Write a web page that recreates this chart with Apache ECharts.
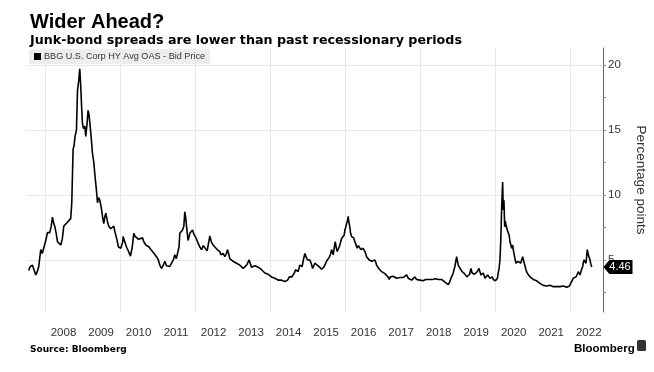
<!DOCTYPE html>
<html>
<head>
<meta charset="utf-8">
<script src="https://cdn.jsdelivr.net/npm/echarts@6/dist/echarts.min.js"></script>
<style>html,body{margin:0;padding:0;background:#fff;overflow:hidden;}#chart{width:654px;height:372px;}</style>
</head>
<body>
<div id="chart"></div>
<script>
// [decimal year, spread in percentage points]
const period2007_2009 = [[2007.573,4.2],[2007.613,4.5],[2007.672,4.6],[2007.707,4.3],[2007.76,3.85],[2007.8,4.1],[2007.84,4.5],[2007.893,5.8],[2007.933,5.5],[2007.973,5.6],[2008.027,6.5],[2008.072,7.1],[2008.133,7.1],[2008.173,7.6],[2008.205,8.3],[2008.24,7.8],[2008.267,7.6],[2008.307,7.0],[2008.339,6.4],[2008.387,6.3],[2008.427,6.15],[2008.467,6.6],[2008.507,7.6],[2008.56,7.7],[2008.605,7.9],[2008.653,8.0],[2008.693,8.2],[2008.72,9.4],[2008.755,13.5],[2008.781,13.8],[2008.808,14.5],[2008.845,15.0],[2008.872,18.0],[2008.907,18.8],[2008.933,19.7],[2008.96,18.3],[2008.987,16.5],[2009.005,15.5],[2009.032,15.1],[2009.067,15.3],[2009.093,14.5],[2009.128,15.5],[2009.155,16.5],[2009.179,16.2],[2009.2,15.6],[2009.235,14.5],[2009.272,13.2],[2009.307,12.5],[2009.341,11.4],[2009.373,10.5],[2009.405,9.4],[2009.435,9.8],[2009.467,9.6],[2009.507,9.0],[2009.547,8.2],[2009.573,7.8],[2009.6,8.3],[2009.627,8.6],[2009.667,8.0],[2009.707,7.6],[2009.76,7.4],[2009.805,7.3],[2009.84,7.6],[2009.867,7.2],[2009.92,6.6],[2009.965,6.0],[2010.0,5.9],[2010.027,5.9],[2010.08,6.4]];
const period2010_2012 = [[2010.088,6.8],[2010.133,6.4],[2010.179,6.0],[2010.227,5.7],[2010.285,5.3],[2010.333,6.0],[2010.373,7.05],[2010.413,6.8],[2010.461,6.9],[2010.493,6.6],[2010.533,6.5],[2010.605,6.7],[2010.64,6.4],[2010.693,6.15],[2010.733,6.3],[2010.781,6.0],[2010.827,5.8],[2010.888,5.6],[2010.933,5.5],[2010.979,5.25],[2011.027,5.0],[2011.067,4.6],[2011.112,4.35],[2011.16,4.6],[2011.2,4.9],[2011.245,4.55],[2011.293,4.6],[2011.333,4.5],[2011.379,4.6],[2011.427,5.0],[2011.467,5.4],[2011.507,5.1],[2011.555,5.25],[2011.579,6.0],[2011.6,7.05],[2011.64,7.2],[2011.672,7.3],[2011.707,7.6],[2011.733,8.7],[2011.76,8.2],[2011.779,7.6],[2011.8,7.0],[2011.821,6.5],[2011.867,7.05],[2011.907,7.0],[2011.939,7.3],[2011.973,7.0],[2012.0,6.9],[2012.045,6.6],[2012.088,6.3],[2012.133,6.0],[2012.179,5.8],[2012.227,6.1],[2012.267,6.0],[2012.328,5.7],[2012.36,6.2],[2012.4,6.85],[2012.44,6.4],[2012.488,6.15],[2012.533,6.0],[2012.595,5.8],[2012.627,5.9],[2012.667,5.65]];
const period2012_2015 = [[2012.693,5.4],[2012.755,5.5],[2012.8,5.25],[2012.84,5.5],[2012.872,5.8],[2012.907,5.4],[2012.933,5.1],[2012.973,5.0],[2013.021,4.9],[2013.067,4.95],[2013.112,4.75],[2013.16,4.8],[2013.2,4.6],[2013.24,4.5],[2013.288,4.35],[2013.333,4.5],[2013.379,4.6],[2013.413,4.8],[2013.448,5.0],[2013.48,4.7],[2013.512,4.45],[2013.56,4.6],[2013.6,4.55],[2013.64,4.6],[2013.688,4.45],[2013.733,4.4],[2013.779,4.25],[2013.827,4.15],[2013.867,4.0],[2013.907,4.0],[2013.955,3.9],[2014.0,3.8],[2014.045,3.7],[2014.093,3.7],[2014.133,3.6],[2014.173,3.55],[2014.221,3.45],[2014.267,3.5],[2014.312,3.45],[2014.36,3.4],[2014.4,3.35],[2014.44,3.45],[2014.472,3.45],[2014.52,3.7],[2014.56,3.85],[2014.587,3.7],[2014.621,3.75],[2014.653,4.0],[2014.685,4.25],[2014.72,4.15],[2014.755,4.1],[2014.779,4.4],[2014.8,4.6],[2014.827,4.5],[2014.861,4.5],[2014.893,5.0],[2014.933,5.5],[2014.973,5.2],[2015.005,5.0],[2015.04,5.1],[2015.067,5.0],[2015.107,4.7],[2015.139,4.35],[2015.173,4.5],[2015.2,4.75]];
const period2015_2017 = [[2015.24,4.6],[2015.288,4.55],[2015.333,4.45],[2015.379,4.3],[2015.413,4.4],[2015.44,4.45],[2015.48,4.7],[2015.512,4.9],[2015.547,5.0],[2015.581,5.2],[2015.613,5.4],[2015.645,5.8],[2015.667,5.6],[2015.688,5.4],[2015.715,5.9],[2015.741,6.4],[2015.768,6.0],[2015.795,5.65],[2015.821,5.8],[2015.848,6.0],[2015.88,6.3],[2015.912,6.65],[2015.933,6.5],[2015.955,6.55],[2015.979,6.9],[2016.0,7.3],[2016.021,7.5],[2016.045,7.8],[2016.067,8.0],[2016.088,8.35],[2016.101,8.0],[2016.115,7.95],[2016.133,7.5],[2016.152,7.05],[2016.179,6.8],[2016.205,6.65],[2016.235,6.7],[2016.267,6.4],[2016.293,6.2],[2016.328,5.9],[2016.36,6.1],[2016.4,6.0],[2016.427,5.8],[2016.461,5.65],[2016.485,5.9],[2016.507,6.0],[2016.541,5.6],[2016.579,5.25],[2016.613,5.2],[2016.648,5.0],[2016.68,5.05],[2016.712,4.9],[2016.755,5.0],[2016.8,5.0],[2016.827,4.8],[2016.845,4.6],[2016.888,4.4],[2016.933,4.25],[2016.979,4.1],[2017.021,4.0],[2017.067,3.95],[2017.112,3.85],[2017.147,3.7],[2017.181,3.5],[2017.213,3.7],[2017.245,3.85],[2017.288,3.75],[2017.333,3.65],[2017.379,3.6],[2017.421,3.6],[2017.467,3.65],[2017.512,3.7],[2017.555,3.65],[2017.6,3.6],[2017.645,3.85],[2017.688,3.6],[2017.733,3.45]];
const period2017_2020 = [[2017.779,3.45],[2017.821,3.6],[2017.867,3.7],[2017.912,3.5],[2017.955,3.4],[2018.0,3.45],[2018.045,3.5],[2018.08,3.4],[2018.115,3.35],[2018.16,3.5],[2018.205,3.6],[2018.248,3.5],[2018.293,3.4],[2018.339,3.5],[2018.381,3.65],[2018.413,3.55],[2018.445,3.45],[2018.488,3.5],[2018.533,3.6],[2018.579,3.5],[2018.621,3.35],[2018.667,3.3],[2018.712,3.2],[2018.755,3.1],[2018.792,3.3],[2018.827,3.6],[2018.859,3.8],[2018.888,4.0],[2018.912,4.3],[2018.933,4.5],[2018.955,4.9],[2018.979,5.25],[2019.0,4.9],[2019.021,4.6],[2019.059,4.4],[2019.093,4.25],[2019.125,4.1],[2019.155,4.0],[2019.187,3.95],[2019.219,3.85],[2019.253,3.7],[2019.288,3.6],[2019.325,3.9],[2019.36,4.35],[2019.392,4.0],[2019.421,3.85],[2019.453,3.9],[2019.485,4.0],[2019.528,4.1],[2019.573,4.35],[2019.6,4.1],[2019.627,3.85],[2019.659,3.9],[2019.688,4.0],[2019.712,3.8],[2019.733,3.6],[2019.768,3.7],[2019.805,3.85],[2019.84,3.7],[2019.867,3.6],[2019.899,3.6],[2019.928,3.7],[2019.955,3.5],[2019.981,3.35],[2020.013,3.4],[2020.045,3.35],[2020.067,3.6],[2020.088,4.0],[2020.112,4.4],[2020.133,5.0],[2020.155,6.5],[2020.179,9.0],[2020.205,11.0]];
const period2020_2022 = [[2020.221,8.85],[2020.24,9.6],[2020.259,7.55],[2020.275,8.0],[2020.293,7.7],[2020.312,7.5],[2020.328,7.3],[2020.355,7.45],[2020.379,6.9],[2020.4,6.4],[2020.421,6.2],[2020.445,5.9],[2020.472,6.15],[2020.488,5.8],[2020.507,5.5],[2020.533,5.1],[2020.56,4.75],[2020.592,4.85],[2020.621,4.9],[2020.653,4.8],[2020.685,4.75],[2020.712,5.0],[2020.739,5.25],[2020.76,5.0],[2020.781,4.75],[2020.805,4.5],[2020.827,4.25],[2020.859,4.0],[2020.888,3.85],[2020.933,3.7],[2020.979,3.6],[2021.021,3.5],[2021.067,3.45],[2021.112,3.4],[2021.155,3.35],[2021.2,3.2],[2021.245,3.1],[2021.288,3.05],[2021.333,3.0],[2021.379,3.0],[2021.421,2.95],[2021.467,3.05],[2021.512,3.1],[2021.555,2.95],[2021.6,2.8],[2021.645,2.95],[2021.688,3.0],[2021.733,2.95],[2021.779,2.9],[2021.821,3.0],[2021.867,3.0],[2021.912,2.9],[2021.955,2.8],[2021.987,3.0],[2022.019,3.2],[2022.053,3.4],[2022.088,3.6],[2022.125,3.5],[2022.16,3.7],[2022.192,3.9],[2022.221,4.1],[2022.245,4.0],[2022.267,3.85],[2022.301,4.2],[2022.339,4.5],[2022.355,4.8],[2022.373,5.0],[2022.4,4.9],[2022.427,4.75],[2022.445,5.3],[2022.461,5.8],[2022.475,5.6],[2022.488,5.4],[2022.512,5.2],[2022.533,5.0],[2022.555,4.7],[2022.579,4.46]];

const yearLabels = [2008,2009,2010,2011,2012,2013,2014,2015,2016,2017,2018,2019,2020,2021,2022];
const yLabelValues = [5,10,15,20];
const yTickValues = [2.5,5,7.5,10,12.5,15,17.5,20];
const lastValue = 4.46;
const seriesName = 'BBG U.S. Corp HY Avg OAS - Bid Price';

const X_MIN = 2007.5, X_MAX = 2022.88, Y_MIN = 1, Y_MAX = 21.3;
const spreads = [].concat(period2007_2009, period2010_2012, period2012_2015, period2015_2017, period2017_2020, period2020_2022);

const chart = echarts.init(document.getElementById('chart'), null, {renderer: 'canvas', width: 654, height: 372});
const clear = 'rgba(0,0,0,0)';
chart.setOption({
  animation: false,
  backgroundColor: '#fff',
  title: [
    {text: 'Wider Ahead?', left: 25, top: 7, textStyle: {fontFamily: 'Liberation Sans', fontWeight: 'bold', fontSize: 20, color: '#000'}},
    {text: 'Junk-bond spreads are lower than past recessionary periods', left: 25, top: 29, textStyle: {fontFamily: 'DejaVu Sans', fontWeight: 'bold', fontSize: 12.7, color: '#000'}},
    {text: 'Source: Bloomberg', left: 25, top: 340, textStyle: {fontFamily: 'DejaVu Sans', fontWeight: 'bold', fontSize: 9, color: '#000'}},
    {text: 'Bloomberg', left: 569, top: 338, textStyle: {fontFamily: 'Liberation Sans', fontWeight: 'bold', fontSize: 11.5, color: '#000'}}
  ],
  graphic: [
    {type: 'rect', left: 637, top: 340, shape: {width: 9, height: 11, r: 1.5}, style: {fill: '#333'}}
  ],
  legend: {
    left: 29, top: 49,
    backgroundColor: 'rgba(236,236,236,0.95)',
    padding: [3, 5, 3, 5],
    icon: 'rect', itemWidth: 7, itemHeight: 7, itemGap: 4,
    textStyle: {fontFamily: 'Liberation Sans', fontSize: 9.1, color: '#333', padding: [0,0,0,-2]},
    data: [seriesName]
  },
  grid: {left: 26, right: 51, top: 48, bottom: 60, containLabel: false, outerBoundsMode: 'none'},
  xAxis: {
    type: 'value', min: X_MIN, max: X_MAX, interval: 0.5,
    axisLine: {show: false}, axisTick: {show: false},
    splitLine: {show: true, lineStyle: {color: [clear, '#e8e8e8', clear, clear], width: 1}},
    axisLabel: {
      margin: 15, fontFamily: 'Liberation Sans', fontSize: 11.5, color: '#333',
      formatter: function (v) {
        const y = Math.floor(v);
        return (Math.abs(v - y - 0.5) < 1e-6 && yearLabels.indexOf(y) >= 0) ? String(y) : '';
      }
    }
  },
  yAxis: {
    type: 'value', position: 'right', min: Y_MIN, max: Y_MAX,
    name: 'Percentage points', nameLocation: 'middle', nameRotate: -90, nameGap: 31,
    nameTextStyle: {fontFamily: 'Liberation Sans', fontSize: 13.5, color: '#333'},
    axisLine: {show: true, lineStyle: {color: '#666', width: 1}},
    axisTick: {show: true, length: 3, customValues: yTickValues, lineStyle: {color: '#888'}},
    axisLabel: {margin: 5, fontFamily: 'Liberation Sans', fontSize: 11.5, color: '#333', customValues: yLabelValues},
    splitLine: {show: true, lineStyle: {color: [clear, '#e8e8e8'], width: 1}}
  },
  series: [{
    name: seriesName, type: 'line', data: spreads, showSymbol: false, symbol: 'none',
    lineStyle: {color: '#000', width: 1.6}, itemStyle: {color: '#000'},
    markPoint: {
      silent: true,
      data: [{coord: [X_MAX, lastValue], value: lastValue}],
      symbol: 'path://M0,7 L6,0 L30,0 L30,14 L6,14 Z',
      symbolSize: [29, 14], symbolOffset: [15, 0],
      itemStyle: {color: '#000'},
      label: {show: true, position: 'inside', offset: [2, 0], color: '#fff', fontFamily: 'Liberation Sans', fontSize: 11, formatter: function (p) { return p.value.toFixed(2); }}
    }
  }]
});
</script>
</body>
</html>
